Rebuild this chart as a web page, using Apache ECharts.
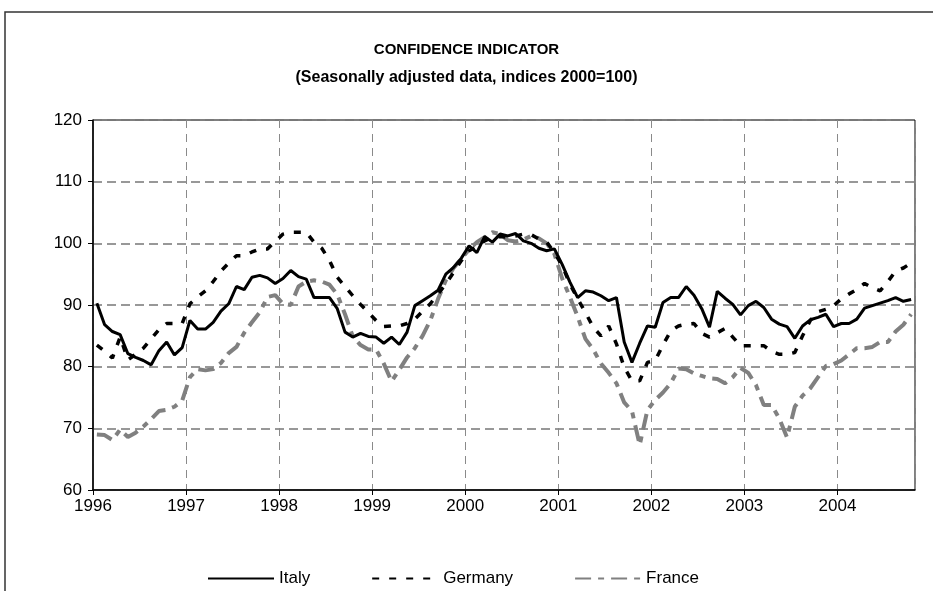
<!DOCTYPE html>
<html>
<head>
<meta charset="utf-8">
<script src="https://cdn.jsdelivr.net/npm/echarts@6/dist/echarts.min.js"></script>
<style>
html,body{margin:0;padding:0;background:#fff;}
#chart{width:933px;height:591px;}
</style>
</head>
<body>
<div id="chart"></div>
<script>
// Monthly data, Jan 1996 - Oct 2004
const yearLabels = ['1996','1997','1998','1999','2000','2001','2002','2003','2004'];
const yTicks = [60,70,80,90,100,110,120];

const italy = [
  90.3,86.8,85.7,85.2,82.1,81.5,81.0,80.3,82.6,84.0,81.9,83.1,
  87.5,86.1,86.1,87.2,89.0,90.2,93.0,92.5,94.5,94.8,94.4,93.5,
  94.3,95.6,94.6,94.2,91.2,91.2,91.2,89.4,85.6,84.8,85.4,84.9,
  84.8,83.8,84.8,83.6,85.6,89.9,90.7,91.5,92.4,95.0,96.1,97.6,
  99.6,98.5,101.1,100.2,101.5,101.2,101.6,100.4,100.0,99.2,98.8,99.1,
  96.6,93.7,91.2,92.3,92.1,91.5,90.7,91.2,84.0,80.7,83.8,86.6,
  86.4,90.4,91.2,91.2,93.0,91.6,89.4,86.4,92.2,91.1,90.1,88.4,
  89.9,90.6,89.6,87.7,86.9,86.5,84.6,86.6,87.6,88.0,88.5,86.5,
  87.0,87.0,87.7,89.5,89.9,90.3,90.7,91.2,90.6,90.9
];
const germany = [
  83.5,82.5,81.4,84.8,81.1,82.0,83.0,84.5,86.0,87.0,87.0,87.0,
  90.2,91.3,92.3,93.8,95.5,96.8,98.0,98.0,98.6,99.1,99.1,100.3,
  101.5,101.8,101.8,101.8,100.2,99.2,97.2,94.5,93.0,91.5,90.1,88.8,
  87.5,86.5,86.6,86.6,87.0,87.7,89.0,90.2,91.8,93.4,95.3,97.2,
  98.8,99.5,100.4,101.0,101.1,101.0,101.2,101.5,101.4,100.7,100.2,98.5,
  96.4,93.4,91.0,88.8,86.4,85.0,86.6,83.7,79.9,77.7,77.7,80.7,
  81.0,83.5,85.8,86.6,86.9,87.0,85.4,84.8,85.5,86.2,84.8,83.4,
  83.4,83.4,83.4,82.5,82.0,82.0,82.3,85.0,87.5,88.9,89.3,89.9,
  91.0,91.8,92.5,93.5,92.8,92.3,93.8,95.5,96.0,96.8
];
const france = [
  69.0,68.9,68.1,69.8,68.6,69.3,70.3,71.5,72.8,73.0,73.5,74.5,
  78.3,79.6,79.4,79.6,80.6,82.2,83.2,85.5,87.2,88.8,91.3,91.6,
  90.2,90.0,93.0,93.8,94.0,93.8,93.3,91.7,88.5,84.9,83.5,82.8,
  82.8,80.5,77.6,79.5,81.5,83.0,85.0,87.5,91.0,94.0,96.0,97.5,
  99.0,100.2,101.0,101.8,101.5,100.5,100.3,100.6,101.2,100.8,100.0,98.3,
  94.3,91.3,88.1,84.5,82.8,80.5,79.0,77.3,74.2,72.8,67.3,73.0,
  74.6,75.8,77.3,79.7,79.6,78.9,78.5,78.1,78.0,77.3,78.3,79.8,
  79.0,77.0,73.8,73.8,71.6,68.5,73.5,75.3,76.5,78.3,80.1,80.4,
  81.0,82.0,83.0,83.0,83.2,84.0,84.0,85.7,86.8,88.5
];

const nMonths = italy.length;
const toXY = arr => arr.map((v, i) => [i + 0.5, v]);

const chart = echarts.init(document.getElementById('chart'));
const font = 'Liberation Sans, Arial, sans-serif';

chart.setOption({
  animation: false,
  backgroundColor: '#ffffff',
  title: {
    text: '{a|CONFIDENCE INDICATOR}\n{b|(Seasonally adjusted data, indices 2000=100)}',
    left: 'center',
    top: 31,
    textStyle: {
      fontFamily: font, fontWeight: 'bold', color: '#000', lineHeight: 28, align: 'center',
      rich: {
        a: { fontFamily: font, fontSize: 15, fontWeight: 'bold', color: '#000', lineHeight: 28 },
        b: { fontFamily: font, fontSize: 16, fontWeight: 'bold', color: '#000', lineHeight: 28 }
      }
    }
  },
  graphic: [{
    type: 'rect',
    shape: { x: 5, y: 12, width: 1000, height: 700 },
    style: { fill: 'none', stroke: '#333', lineWidth: 1.5 },
    silent: true,
    z: -1
  }],
  legend: {
    left: 207,
    top: 570,
    padding: 0,
    itemWidth: 66,
    itemHeight: 16,
    itemGap: 61,
    itemStyle: { opacity: 0 },
    textStyle: { fontFamily: font, fontSize: 17, color: '#000' },
    data: ['Italy', 'Germany', 'France']
  },
  grid: {
    left: 93, top: 120, width: 822, height: 370,
    show: true, borderColor: '#000', borderWidth: 1, backgroundColor: 'transparent'
  },
  xAxis: {
    type: 'value',
    min: 0,
    max: nMonths,
    interval: 12,
    axisLine: { show: true, onZero: false, lineStyle: { color: '#000', width: 1.5 } },
    axisTick: { show: true, length: 5, lineStyle: { color: '#000' } },
    axisLabel: {
      margin: 8,
      fontFamily: font, fontSize: 17, color: '#000',
      showMaxLabel: false,
      formatter: v => (v % 12 === 0 ? yearLabels[v / 12] : '')
    },
    splitLine: { show: true, lineStyle: { color: '#8a8a8a', width: 1, type: [8, 6] } }
  },
  yAxis: {
    type: 'value',
    min: yTicks[0],
    max: yTicks[yTicks.length - 1],
    interval: 10,
    axisLine: { show: true, lineStyle: { color: '#000', width: 1.5 } },
    axisTick: { show: true, length: 5, lineStyle: { color: '#000' } },
    axisLabel: { margin: 11, fontFamily: font, fontSize: 17, color: '#000' },
    splitLine: { show: true, lineStyle: { color: '#777', width: 1.5, type: [9, 5] } }
  },
  series: [
    {
      name: 'Italy', type: 'line', data: toXY(italy), symbol: 'none', z: 5,
      lineStyle: { color: '#000', width: 3 },
      itemStyle: { color: '#000' }
    },
    {
      name: 'Germany', type: 'line', data: toXY(germany), symbol: 'none', z: 4,
      lineStyle: { color: '#000', width: 3.5, type: [7, 10] },
      itemStyle: { color: '#000' }
    },
    {
      name: 'France', type: 'line', data: toXY(france), symbol: 'none', z: 3,
      lineStyle: { color: '#808080', width: 4, type: [16, 7, 6, 7] },
      itemStyle: { color: '#808080' }
    }
  ]
});
</script>
</body>
</html>
